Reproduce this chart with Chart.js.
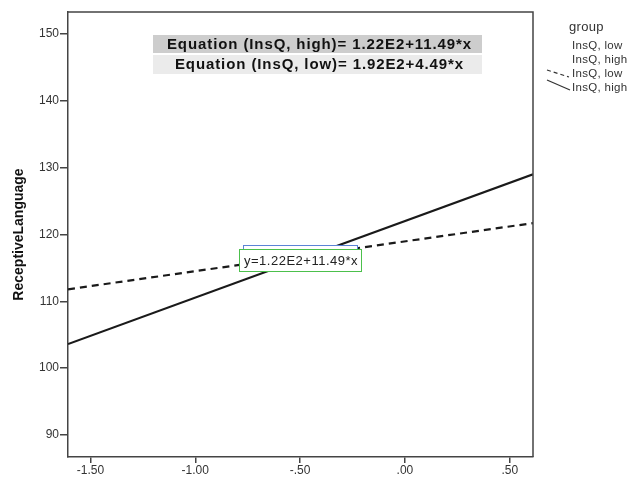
<!DOCTYPE html>
<html>
<head>
<meta charset="utf-8">
<script src="https://cdn.jsdelivr.net/npm/chart.js@4/dist/chart.umd.min.js"></script>
<style>
  html, body { margin: 0; padding: 0; background: #fff; }
  #wrap { width: 629px; height: 477px; position: relative; }
</style>
</head>
<body>
<div id="wrap"><canvas id="myChart" width="629" height="477"></canvas></div>
<script>
// Data - fit line end points
const xEnds = [-1.607, 0.611];
const highValues = [103.6, 129.0];   // InsQ, high (solid)
const lowValues = [111.8, 121.7];    // InsQ, low (dashed)

const xTicks = [-1.5, -1.0, -0.5, 0, 0.5];
const yTicks = [90, 100, 110, 120, 130, 140, 150];
const xRange = [-1.607, 0.611];
const yRange = [86.7, 153.3];

const legendTitle = 'group';
const legendLabels = ['InsQ, low', 'InsQ, high', 'InsQ, low', 'InsQ, high'];
const equations = [
    'Equation (InsQ, high)= 1.22E2+11.49*x',
    'Equation (InsQ, low)= 1.92E2+4.49*x'
];
const fitLabel = 'y=1.22E2+11.49*x';

const FONT = '"Liberation Sans", Arial, sans-serif';
const AXIS = '#444';

function spssNum(v) {
    // SPSS style: no leading zero -> -.50, .00
    let s = v.toFixed(2);
    return s.replace(/^(-?)0\./, '$1.');
}

// draws frame, equation boxes, fit label and legend
const extras = {
    id: 'extras',
    afterDatasetsDraw(chart) {
        const ctx = chart.ctx;
        const a = chart.chartArea;
        const xs = chart.scales.x, ys = chart.scales.y;
        ctx.save();

        // fit label boxes
        const cx = Math.round(xs.getPixelForValue(-0.5));
        const cy = Math.round(ys.getPixelForValue(116.2));
        const w = 122, h = 22;
        const left = cx - w / 2, top = cy - h / 2;
        ctx.lineWidth = 1;
        ctx.fillStyle = '#fff';
        ctx.strokeStyle = '#5b84d6';
        ctx.fillRect(left + 4, top - 4, w - 8, h);
        ctx.strokeRect(left + 4.5, top - 3.5, w - 8, h);
        ctx.fillRect(left, top, w, h);
        ctx.strokeStyle = '#4cc04c';
        ctx.strokeRect(left + 0.5, top + 0.5, w, h);
        ctx.fillStyle = '#222';
        ctx.textAlign = 'center';
        ctx.textBaseline = 'middle';
        ctx.font = '13px ' + FONT;
        ctx.letterSpacing = '0.5px';
        ctx.fillText(fitLabel, cx + 1, cy + 1.5);

        // frame top and right
        ctx.strokeStyle = AXIS;
        ctx.lineWidth = 1.5;
        ctx.beginPath();
        ctx.moveTo(a.left, a.top);
        ctx.lineTo(a.right, a.top);
        ctx.lineTo(a.right, a.bottom);
        ctx.stroke();

        // equation boxes
        const bx = 153, bw = 329;
        ctx.fillStyle = '#cdcdcd';
        ctx.fillRect(bx, 35, bw, 18);
        ctx.fillStyle = '#ebebeb';
        ctx.fillRect(bx, 55, bw, 19);
        ctx.fillStyle = '#111';
        ctx.font = 'bold 15px ' + FONT;
        ctx.letterSpacing = '0.9px';
        ctx.fillText(equations[0], bx + bw / 2 + 2, 44.5);
        ctx.fillText(equations[1], bx + bw / 2 + 2, 65);

        // legend
        ctx.textAlign = 'left';
        ctx.fillStyle = '#333';
        ctx.letterSpacing = '0.3px';
        ctx.font = '13px ' + FONT;
        ctx.fillText(legendTitle, 569, 27);
        ctx.font = '11.5px ' + FONT;
        const ly = [46, 60, 74, 88];
        legendLabels.forEach(function (t, i) {
            ctx.fillText(t, 572, ly[i]);
        });
        ctx.strokeStyle = '#333';
        ctx.lineWidth = 1.2;
        ctx.setLineDash([4, 3]);
        ctx.beginPath();
        ctx.moveTo(547, 70);
        ctx.lineTo(569, 77);
        ctx.stroke();
        ctx.setLineDash([]);
        ctx.beginPath();
        ctx.moveTo(547, 80);
        ctx.lineTo(570, 90);
        ctx.stroke();

        ctx.restore();
    }
};

const chartArea = document.getElementById('myChart');

new Chart(chartArea, {
    type: 'scatter',
    data: {
        datasets: [
            {
                label: 'InsQ, low',
                data: xEnds.map(function (x, i) { return { x: x, y: lowValues[i] }; }),
                showLine: true,
                borderColor: '#1a1a1a',
                borderWidth: 2.2,
                borderDash: [7, 5],
                pointRadius: 0
            },
            {
                label: 'InsQ, high',
                data: xEnds.map(function (x, i) { return { x: x, y: highValues[i] }; }),
                showLine: true,
                borderColor: '#1a1a1a',
                borderWidth: 2.2,
                pointRadius: 0
            }
        ]
    },
    options: {
        responsive: false,
        animation: false,
        layout: { padding: { top: 12, right: 96, left: 0, bottom: 0 } },
        plugins: {
            legend: { display: false },
            tooltip: { enabled: false }
        },
        scales: {
            x: {
                type: 'linear',
                min: xRange[0],
                max: xRange[1],
                afterBuildTicks: function (scale) {
                    scale.ticks = xTicks.map(function (v) { return { value: v }; });
                },
                afterFit: function (scale) { scale.height = 20; },
                grid: { display: true, drawOnChartArea: false, drawTicks: true, tickLength: 6, color: AXIS, lineWidth: 1.5 },
                border: { display: true, color: AXIS, width: 1.5 },
                ticks: {
                    color: '#333',
                    font: { family: FONT, size: 12 },
                    padding: 0,
                    maxRotation: 0,
                    callback: function (v) { return spssNum(v); }
                }
            },
            y: {
                type: 'linear',
                min: yRange[0],
                max: yRange[1],
                afterBuildTicks: function (scale) {
                    scale.ticks = yTicks.map(function (v) { return { value: v }; });
                },
                afterFit: function (scale) { scale.width = 68; },
                grid: { display: true, drawOnChartArea: false, drawTicks: true, tickLength: 8, color: AXIS, lineWidth: 1.5 },
                border: { display: true, color: AXIS, width: 1.5 },
                ticks: {
                    color: '#333',
                    font: { family: FONT, size: 12 },
                    padding: 1
                },
                title: {
                    display: true,
                    text: 'ReceptiveLanguage',
                    color: '#111',
                    font: { family: FONT, size: 14, weight: 'bold' },
                    padding: { top: 11, bottom: 0 }
                }
            }
        }
    },
    plugins: [extras]
});
</script>
</body>
</html>
